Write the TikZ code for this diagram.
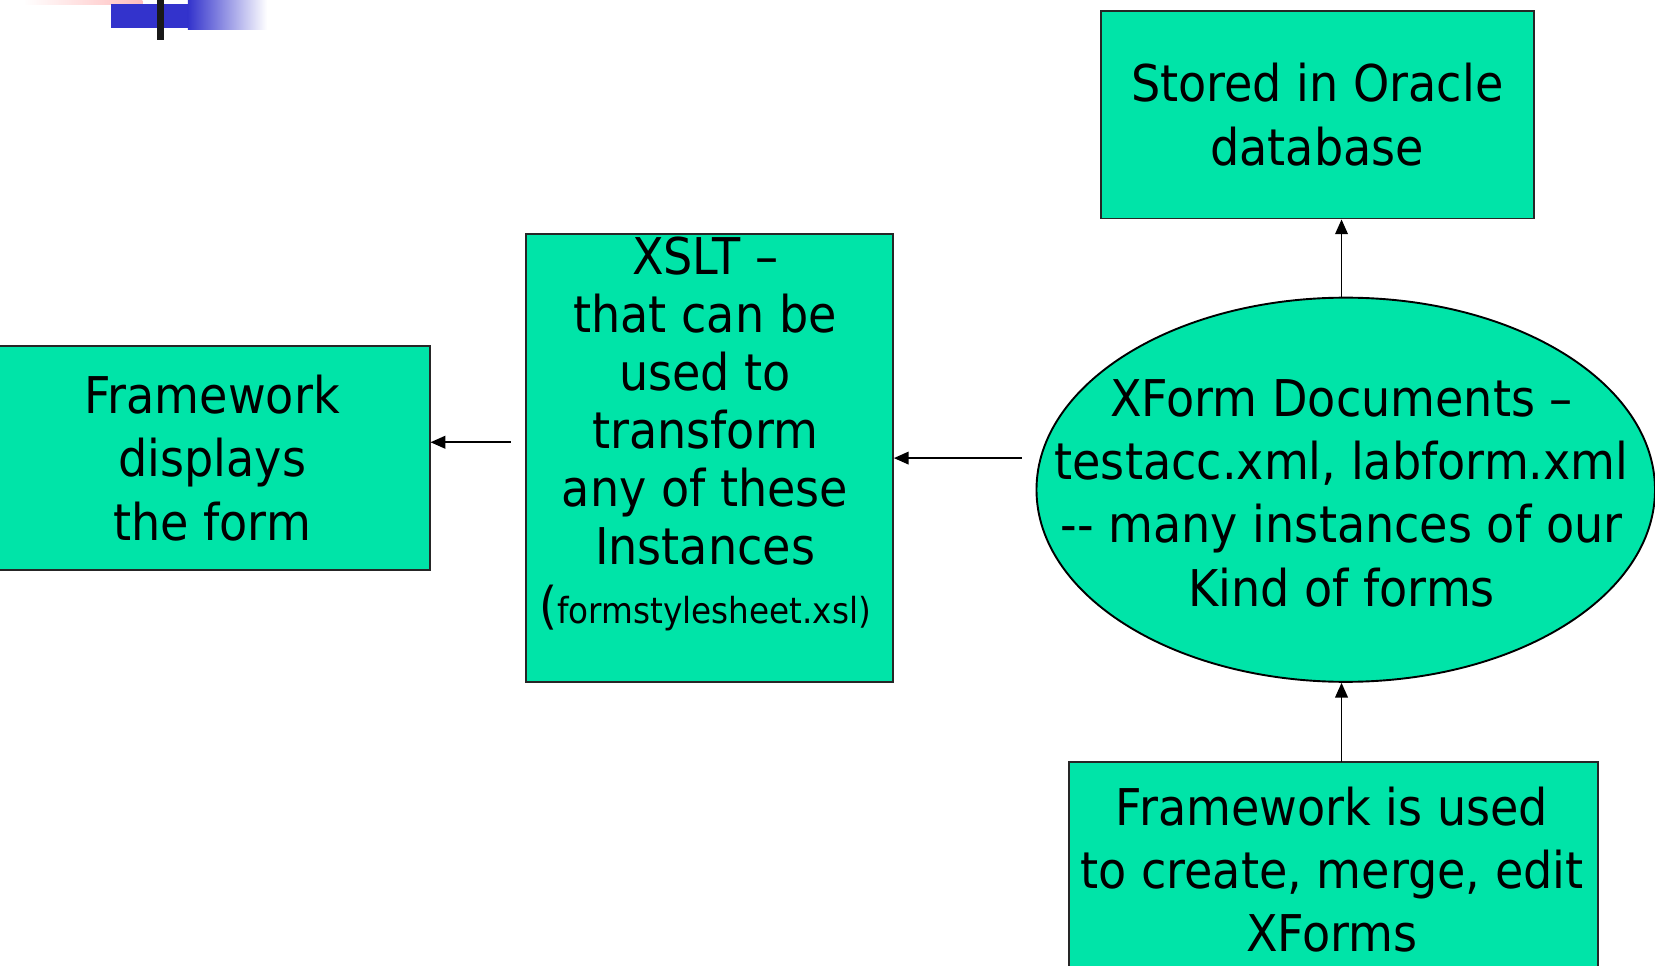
\documentclass[tikz,border=0pt]{standalone}
\usepackage{fontspec}
\setmainfont{DejaVu Sans}[FakeStretch=0.91]
\usetikzlibrary{shapes.geometric,arrows.meta}
\definecolor{boxgreen}{RGB}{0,228,168}
\definecolor{decoblue}{RGB}{51,51,204}
\definecolor{decopink}{RGB}{255,190,190}
\begin{document}
\begin{tikzpicture}[x=0.5pt,y=-0.5pt,
  box/.style={draw=black!85,line width=0.9pt,fill=boxgreen,inner sep=0pt,rectangle},
  txt/.style={align=center,font=\fontsize{24}{30}\selectfont,inner sep=0pt},
  arr/.style={-{Triangle[length=7pt,width=6pt]},line width=0.8pt}]
\useasboundingbox (0,0) rectangle (1568,915);
% top-left decoration
\shade[left color=white,right color=decopink] (22,0) rectangle (135,4);
\fill[decoblue] (105,4) rectangle (178,27);
\shade[left color=decoblue,right color=white] (178,0) rectangle (253,28);
\fill[black!90] (149,0) rectangle (155,38);
% boxes
\node[box,txt,minimum width=205pt,minimum height=98.5pt] (stored) at (1248,108.5) {Stored in Oracle\\database};
\node[box,txt,minimum width=206pt,minimum height=106pt] (fwd) at (201,434) {Framework\\displays\\the form};
\node[box,minimum width=174pt,minimum height=212pt] (xslt) at (672,434) {};
\node[txt,font=\fontsize{24}{27.5}\selectfont] (xsltT) at (668,411) {XSLT –\\that can be\\used to\\transform\\any of these\\Instances\\({\fontsize{17}{20}\selectfont formstylesheet.xsl)}};
\node[ellipse,draw=black,line width=0.9pt,fill=boxgreen,minimum width=293pt,minimum height=182pt,inner sep=0pt] (ell) at (1275,464) {};
\node[txt] (ellT) at (1271,467) {XForm Documents –\\testacc.xml, labform.xml\\-{}- many instances of our\\Kind of forms};
\node[box,minimum width=250.5pt,minimum height=139pt] (fw) at (1263.5,861) {};
\node[txt] (fwT) at (1262,824) {Framework is used\\to create, merge, edit\\XForms};
% connectors
\coordinate (up1) at (1271,282);
\draw[arr] (up1) -- (up1 |- stored.south);
\coordinate (up2) at (1271,722);
\draw[arr] (up2) -- (up2 |- ell.south);
\coordinate (a1) at (968,434);
\draw[arr] (a1) -- (a1 -| xslt.east);
\coordinate (a2) at (484,419);
\draw[arr] (a2) -- (a2 -| fwd.east);
\end{tikzpicture}
\end{document}
